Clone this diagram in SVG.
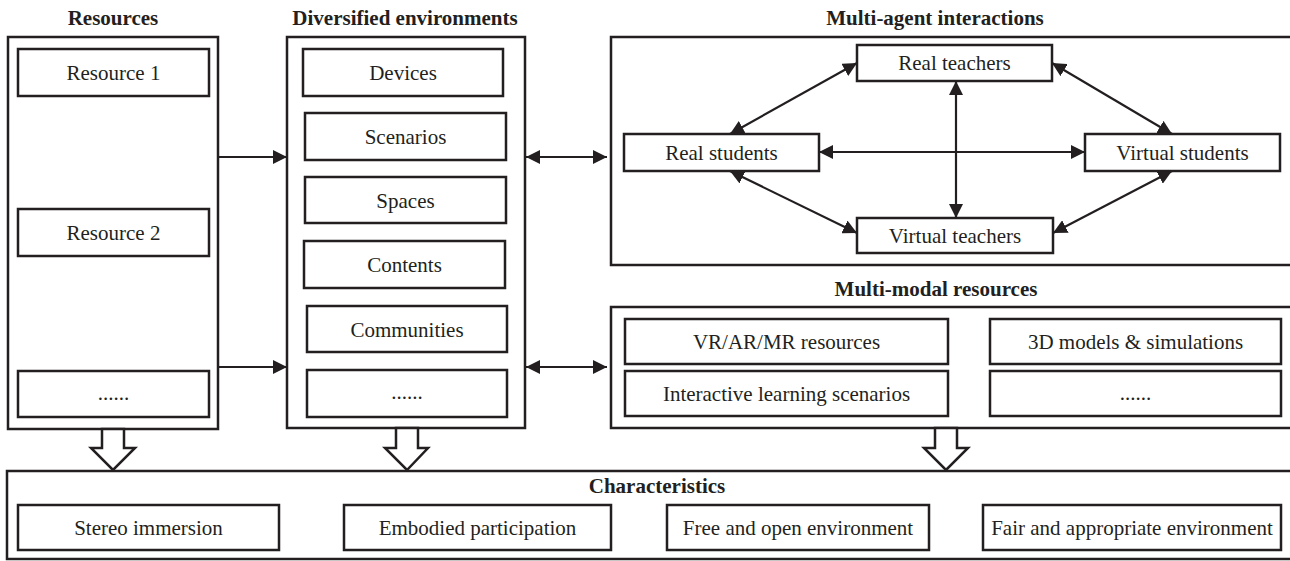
<svg xmlns="http://www.w3.org/2000/svg" width="1290" height="561" viewBox="0 0 1290 561">
<style>
  .outer { fill: #fff; stroke: #231f20; stroke-width: 2.5; }
  .box { fill: #fff; stroke: #231f20; stroke-width: 2.5; }
  .t { font-family: "Liberation Serif", "Times New Roman", serif; font-size: 21px; fill: #231f20; text-anchor: middle; }
  .h { font-family: "Liberation Serif", "Times New Roman", serif; font-size: 21px; font-weight: bold; fill: #231f20; text-anchor: middle; }
  .c { stroke: #231f20; stroke-width: 2.2; fill: none; }
  .hollow { fill: #fff; stroke: #231f20; stroke-width: 2.5; stroke-linejoin: miter; }
</style>
<defs>
  <marker id="ah" viewBox="0 0 14 14" refX="14" refY="7" markerWidth="14" markerHeight="14" markerUnits="userSpaceOnUse" orient="auto-start-reverse">
    <path d="M0,0 L14,7 L0,14 z" fill="#231f20"/>
  </marker>
</defs>
<rect width="1290" height="561" fill="#fff"/>

<!-- Titles -->
<text class="h" x="113" y="25">Resources</text>
<text class="h" x="405" y="25">Diversified environments</text>
<text class="h" x="935" y="25">Multi-agent interactions</text>
<text class="h" x="936" y="296">Multi-modal resources</text>

<!-- Resources -->
<g id="resources">
  <rect class="outer" x="8" y="37" width="210" height="392"/>
  <g id="resource1"><rect class="box" x="18" y="49" width="191" height="47"/><text class="t" x="113.5" y="80">Resource 1</text></g>
  <g id="resource2"><rect class="box" x="18" y="209" width="191" height="47"/><text class="t" x="113.5" y="240">Resource 2</text></g>
  <g id="resource-more"><rect class="box" x="18" y="371" width="191" height="46"/><text class="t" x="113.5" y="400">......</text></g>
</g>

<!-- Diversified environments -->
<g id="environments">
  <rect class="outer" x="287" y="37" width="238" height="391"/>
  <g id="devices"><rect class="box" x="303" y="49" width="200" height="47"/><text class="t" x="403" y="80">Devices</text></g>
  <g id="scenarios"><rect class="box" x="305" y="113" width="201" height="47"/><text class="t" x="405.5" y="144">Scenarios</text></g>
  <g id="spaces"><rect class="box" x="305" y="177" width="201" height="46"/><text class="t" x="405.5" y="208">Spaces</text></g>
  <g id="contents"><rect class="box" x="304" y="241" width="201" height="47"/><text class="t" x="404.5" y="272">Contents</text></g>
  <g id="communities"><rect class="box" x="307" y="306" width="200" height="46"/><text class="t" x="407" y="337">Communities</text></g>
  <g id="env-more"><rect class="box" x="307" y="370" width="200" height="47"/><text class="t" x="407" y="399">......</text></g>
</g>

<!-- Multi-agent interactions -->
<g id="multi-agent">
  <rect class="outer" x="611" y="37" width="690" height="228"/>
  <g id="real-teachers"><rect class="box" x="857" y="45" width="195" height="36"/><text class="t" x="954.5" y="70">Real teachers</text></g>
  <g id="real-students"><rect class="box" x="624" y="134" width="195" height="37"/><text class="t" x="721.5" y="160">Real students</text></g>
  <g id="virtual-students"><rect class="box" x="1085" y="134" width="195" height="37"/><text class="t" x="1182.5" y="160">Virtual students</text></g>
  <g id="virtual-teachers"><rect class="box" x="857" y="218" width="196" height="35"/><text class="t" x="955" y="243">Virtual teachers</text></g>
</g>

<!-- Multi-modal resources -->
<g id="multi-modal">
  <rect class="outer" x="611" y="307" width="690" height="121"/>
  <g id="vr-ar-mr"><rect class="box" x="625" y="319" width="323" height="45"/><text class="t" x="786.5" y="349">VR/AR/MR resources</text></g>
  <g id="interactive"><rect class="box" x="625" y="371" width="323" height="45"/><text class="t" x="786.5" y="401">Interactive learning scenarios</text></g>
  <g id="models-3d"><rect class="box" x="990" y="319" width="291" height="45"/><text class="t" x="1135.5" y="349">3D models &amp; simulations</text></g>
  <g id="mm-more"><rect class="box" x="990" y="371" width="291" height="45"/><text class="t" x="1135.5" y="400">......</text></g>
</g>

<!-- Characteristics -->
<g id="characteristics">
  <rect class="outer" x="7" y="471" width="1294" height="88"/>
  <text class="h" x="657" y="493">Characteristics</text>
  <g id="stereo"><rect class="box" x="18" y="505" width="261" height="45"/><text class="t" x="148.5" y="535">Stereo immersion</text></g>
  <g id="embodied"><rect class="box" x="344" y="505" width="267" height="45"/><text class="t" x="477.5" y="535">Embodied participation</text></g>
  <g id="free-open"><rect class="box" x="667" y="505" width="262" height="45"/><text class="t" x="798" y="535">Free and open environment</text></g>
  <g id="fair"><rect class="box" x="983" y="505" width="298" height="45"/><text class="t" x="1132" y="535">Fair and appropriate environment</text></g>
</g>

<!-- Connectors -->
<g id="connectors">
  <line class="c" x1="218" y1="157" x2="287" y2="157" marker-end="url(#ah)"/>
  <line class="c" x1="218" y1="367" x2="287" y2="367" marker-end="url(#ah)"/>
  <line class="c" x1="526" y1="157" x2="607" y2="157" marker-start="url(#ah)" marker-end="url(#ah)"/>
  <line class="c" x1="526" y1="367" x2="607" y2="367" marker-start="url(#ah)" marker-end="url(#ah)"/>

  <line class="c" x1="730" y1="134" x2="857" y2="63" marker-start="url(#ah)" marker-end="url(#ah)"/>
  <line class="c" x1="730" y1="171" x2="857" y2="233" marker-start="url(#ah)" marker-end="url(#ah)"/>
  <line class="c" x1="1052" y1="63" x2="1172" y2="134" marker-start="url(#ah)" marker-end="url(#ah)"/>
  <line class="c" x1="1172" y1="171" x2="1053" y2="233" marker-start="url(#ah)" marker-end="url(#ah)"/>
  <line class="c" x1="819" y1="152" x2="1085" y2="152" marker-start="url(#ah)" marker-end="url(#ah)"/>
  <line class="c" x1="956" y1="81" x2="956" y2="218" marker-start="url(#ah)" marker-end="url(#ah)"/>

  <polygon class="hollow" points="102,429 124,429 124,448 135,448 113,470 91,448 102,448"/>
  <polygon class="hollow" points="396,428 418,428 418,448 428,448 407,470 385,448 396,448"/>
  <polygon class="hollow" points="935,428 957,428 957,448 968,448 946,470 924,448 935,448"/>
</g>
</svg>
